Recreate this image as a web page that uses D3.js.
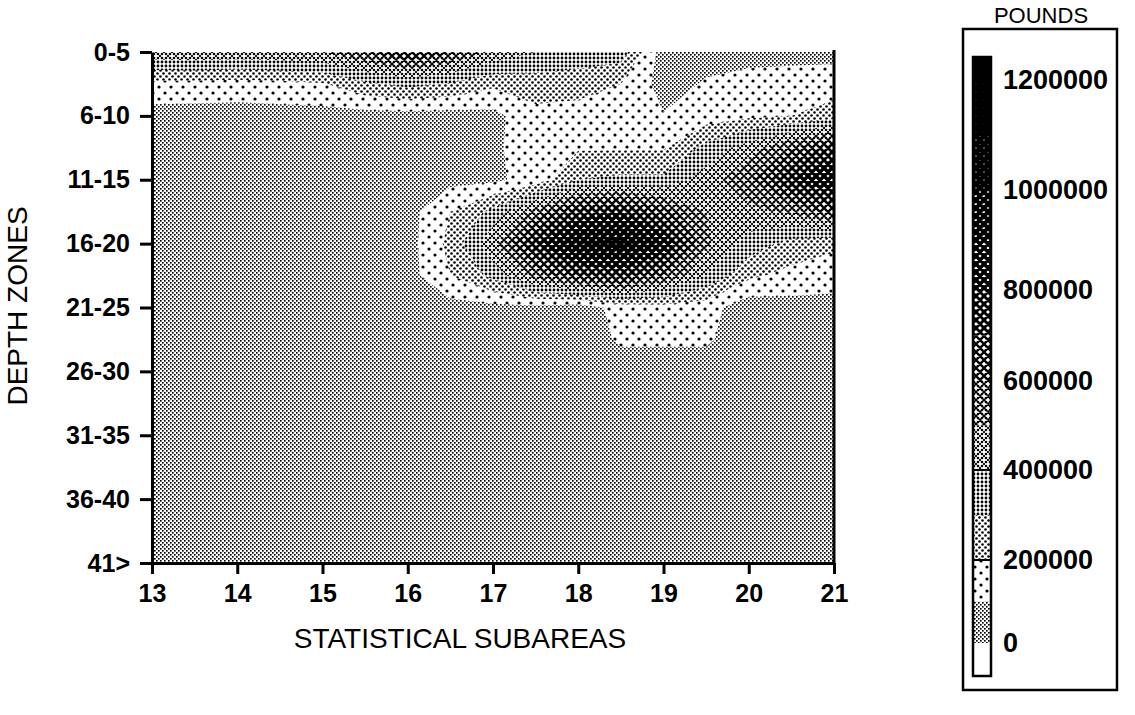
<!DOCTYPE html>
<html>
<head>
<meta charset="utf-8">
<script src="https://cdn.jsdelivr.net/npm/d3@7"></script>
<style>
  body { margin: 0; background: #fff; }
  text { font-family: "Liberation Sans", Arial, Helvetica, sans-serif; fill: #000; }
  .tick text { font-weight: bold; font-size: 25px; }
  .axis path, .axis line { stroke: #000; stroke-width: 3; }
</style>
</head>
<body>
<div id="chart"></div>
<script>

// x axis: statistical subareas, y axis: depth zones
var subareaTicks = [13, 14, 15, 16, 17, 18, 19, 20, 21]
var depthZones = ["0-5", "6-10", "11-15", "16-20", "21-25", "26-30", "31-35", "36-40", "41>"]

// grid sample positions (subarea, depth zone index)
var sampleSubareas = [13, 13.5, 14, 14.5, 15, 15.5, 16, 16.5, 17, 17.5, 18, 18.5, 19, 19.5, 20, 20.5, 21]
var sampleDepths = [0, 0.5, 1, 1.5, 2, 2.5, 3, 3.5, 4, 4.5, 5, 5.5, 6, 6.5, 7, 7.5, 8]

// catch, thousands of pounds, one row per sample depth (top to bottom)
var poundsK = [
  [470, 480, 470, 480, 500, 600, 700, 620, 480, 400, 380, 350,  50,  60,  70,  70,  70],
  [170, 170, 160, 170, 190, 280, 330, 290, 220, 250, 230, 200,  60, 110, 130, 140, 150],
  [ 60,  55,  55,  60,  60,  60,  60,  60,  70, 170, 170, 160, 105, 150, 180, 200, 250],
  [ 55,  50,  55,  55,  60,  55,  60,  60,  80, 160, 190, 190, 190, 330, 450, 600, 750],
  [ 50,  50,  50,  55,  55,  50,  50,  70,  80, 140, 300, 320, 320, 450, 580, 800, 900],
  [ 50,  45,  50,  50,  55,  50,  60, 200, 330, 550, 750, 800, 650, 500, 470, 520, 650],
  [ 45,  45,  50,  50,  50,  50,  60, 230, 480, 800,1000,1050, 900, 520, 360, 260, 220],
  [ 45,  45,  45,  50,  50,  50,  60, 200, 330, 550, 700, 750, 600, 400, 220, 170, 150],
  [ 45,  40,  45,  45,  50,  50,  50,  60,  70,  70,  40, 140, 160, 140,  40,  60,  60],
  [ 45,  45,  45,  45,  45,  50,  50,  50,  50,  50,  40, 115, 115, 115,  40,  50,  50],
  [ 45,  40,  40,  45,  45,  45,  45,  45,  45,  50,  50,  50,  50,  50,  50,  50,  50],
  [ 40,  40,  45,  45,  45,  45,  45,  45,  45,  45,  50,  50,  50,  50,  50,  50,  45],
  [ 40,  40,  40,  45,  45,  45,  45,  45,  45,  45,  45,  50,  50,  50,  50,  45,  45],
  [ 40,  40,  40,  40,  45,  45,  45,  45,  45,  45,  45,  45,  45,  45,  45,  45,  45],
  [ 40,  40,  40,  40,  40,  40,  45,  45,  45,  45,  45,  45,  45,  45,  45,  45,  45],
  [ 35,  35,  40,  40,  40,  40,  40,  40,  40,  40,  40,  40,  40,  40,  40,  40,  40],
  [ 35,  35,  35,  40,  40,  40,  40,  40,  40,  40,  40,  40,  40,  40,  40,  40,  40]
]

// shading levels (thousands) and legend labels
var levelBreaks = [0, 100, 200, 300, 400, 500, 600, 700, 800, 900, 1000, 1100, 1200]
var legendTicks = [0, 200000, 400000, 600000, 800000, 1000000, 1200000]

var width = 1135, height = 715
var plot = { left: 152, right: 834, top: 52, bottom: 563 }

var svg = d3.select("#chart").append("svg")
  .attr("width", width)
  .attr("height", height)

var defs = svg.append("defs")

// halftone style fills, one per level (index 0 = below zero)
function makePattern(i) {
  var size = (i <= 1) ? 4 : (i == 2 ? 12 : (i == 3 ? 6 : (i == 4 ? 4 : 8)))
  var p = defs.append("pattern")
    .attr("id", "lvl" + i)
    .attr("patternUnits", "userSpaceOnUse")
    .attr("width", size)
    .attr("height", size)
  p.append("rect").attr("width", size).attr("height", size).attr("fill", i >= 13 ? "#000" : "#fff")
  if (i == 1) {
    p.append("rect").attr("x", 0).attr("y", 0).attr("width", 1.65).attr("height", 1.65).attr("fill", "#000")
    p.append("rect").attr("x", 2).attr("y", 2).attr("width", 1.65).attr("height", 1.65).attr("fill", "#000")
  } else if (i == 2) {
    p.append("circle").attr("cx", 3).attr("cy", 3).attr("r", 1.6)
    p.append("circle").attr("cx", 9).attr("cy", 9).attr("r", 1.6)
  } else if (i == 3) {
    p.append("circle").attr("cx", 1.5).attr("cy", 1.5).attr("r", 1.3)
    p.append("circle").attr("cx", 4.5).attr("cy", 4.5).attr("r", 1.3)
  } else if (i == 4) {
    p.append("circle").attr("cx", 2).attr("cy", 2).attr("r", 1.4)
  } else if (i >= 5 && i <= 12) {
    [2, 6].forEach(function(a) {
      [2, 6].forEach(function(b) {
        p.append("circle").attr("cx", a).attr("cy", b).attr("r", 1.3)
      })
    })
    var w = 0.9 + (i - 5) * 0.62
    p.append("path")
      .attr("d", "M-8,0L8,16M-8,-8L16,16M0,-8L16,8M-8,16L16,-8M-8,8L8,-8M0,16L16,0")
      .attr("stroke", "#000")
      .attr("stroke-width", w)
  }
}
for (var i = 0; i <= 13; i++) makePattern(i)

var x = d3.scaleLinear().domain([13, 21]).range([plot.left, plot.right])
var yZone = d3.scaleLinear().domain([0, 8]).range([plot.top, plot.bottom])
var y = d3.scalePoint().domain(depthZones).range([plot.top, plot.bottom])

// grid index -> data space
var colToSub = d3.scaleLinear().domain([0, sampleSubareas.length - 1]).range([sampleSubareas[0], sampleSubareas[sampleSubareas.length - 1]])
var rowToDepth = d3.scaleLinear().domain([0, sampleDepths.length - 1]).range([sampleDepths[0], sampleDepths[sampleDepths.length - 1]])

var nx = sampleSubareas.length, ny = sampleDepths.length
var values = []
poundsK.forEach(function(row) { row.forEach(function(v) { values.push(v) }) })

var contours = d3.contours()
  .size([nx, ny])
  .thresholds(levelBreaks)(values)

var projection = d3.geoTransform({
  point: function(px, py) {
    this.stream.point(x(colToSub(px - 0.5)), yZone(rowToDepth(py - 0.5)))
  }
})
var path = d3.geoPath(projection)

defs.append("clipPath").attr("id", "plotClip")
  .append("rect")
  .attr("x", plot.left)
  .attr("y", plot.top)
  .attr("width", plot.right - plot.left)
  .attr("height", plot.bottom - plot.top)

svg.append("g")
  .attr("clip-path", "url(#plotClip)")
  .selectAll("path")
  .data(contours)
  .enter()
  .append("path")
  .attr("d", path)
  .attr("fill", function(d, i) { return "url(#lvl" + (i + 1) + ")" })

// axes
var yAxis = d3.axisLeft(y).tickSize(12).tickSizeOuter(0).tickPadding(10)
var xAxis = d3.axisBottom(x).tickValues(subareaTicks).tickSize(11).tickSizeOuter(0).tickPadding(10)

svg.append("g")
  .attr("class", "axis")
  .attr("transform", "translate(" + plot.left + ",0)")
  .call(yAxis)

svg.append("g")
  .attr("class", "axis")
  .attr("transform", "translate(0," + plot.bottom + ")")
  .call(xAxis)

svg.append("line")
  .attr("x1", plot.right).attr("x2", plot.right)
  .attr("y1", plot.top - 2).attr("y2", plot.bottom)
  .attr("stroke", "#000").attr("stroke-width", 3)

svg.selectAll(".tick text").attr("fill", "#000")

svg.append("text")
  .attr("x", 460)
  .attr("y", 648)
  .attr("text-anchor", "middle")
  .style("font-size", "28px")
  .text("STATISTICAL SUBAREAS")

svg.append("text")
  .attr("transform", "translate(27,306) rotate(-90)")
  .attr("text-anchor", "middle")
  .style("font-size", "28px")
  .text("DEPTH ZONES")

// legend
var legend = { left: 963, right: 1117, top: 29, bottom: 690, barX: 973, barW: 18, barTop: 57, barBottom: 676 }

svg.append("rect")
  .attr("x", legend.left).attr("y", legend.top)
  .attr("width", legend.right - legend.left)
  .attr("height", legend.bottom - legend.top)
  .attr("fill", "none").attr("stroke", "#000").attr("stroke-width", 2.5)

svg.append("text")
  .attr("x", 1041).attr("y", 23)
  .attr("text-anchor", "middle")
  .style("font-size", "22px")
  .text("POUNDS")

// the printed key is not evenly spaced: steps widen toward the top
var legendY = d3.scaleLinear()
  .domain([-100000, 0, 200000, 400000, 600000, 800000, 1000000, 1200000, 1300000])
  .range([legend.barBottom, 643, 560, 470, 381, 290, 190, 80, legend.barTop])

var bins = [-100].concat(levelBreaks)
svg.append("g").selectAll("rect")
  .data(bins)
  .enter()
  .append("rect")
  .attr("x", legend.barX)
  .attr("width", legend.barW)
  .attr("y", function(d) { return legendY((d + 100) * 1000) })
  .attr("height", function(d) { return legendY(d * 1000) - legendY((d + 100) * 1000) })
  .attr("fill", function(d, i) { return "url(#lvl" + i + ")" })

// separator marks on the light part of the key
svg.append("g").selectAll("line")
  .data(legendTicks.filter(function(d) { return d > 0 && d <= 400000 }))
  .enter()
  .append("line")
  .attr("x1", legend.barX).attr("x2", legend.barX + legend.barW)
  .attr("y1", function(d) { return legendY(d) })
  .attr("y2", function(d) { return legendY(d) })
  .attr("stroke", "#000").attr("stroke-width", 2)

svg.append("rect")
  .attr("x", legend.barX).attr("y", legend.barTop)
  .attr("width", legend.barW).attr("height", legend.barBottom - legend.barTop)
  .attr("fill", "none").attr("stroke", "#000").attr("stroke-width", 2.5)

svg.append("g").selectAll("text")
  .data(legendTicks)
  .enter()
  .append("text")
  .attr("x", 1003)
  .attr("y", function(d) { return legendY(d) })
  .attr("dy", "0.35em")
  .style("font-size", "27px")
  .style("font-weight", "bold")
  .text(function(d) { return d })

</script>
</body>
</html>
